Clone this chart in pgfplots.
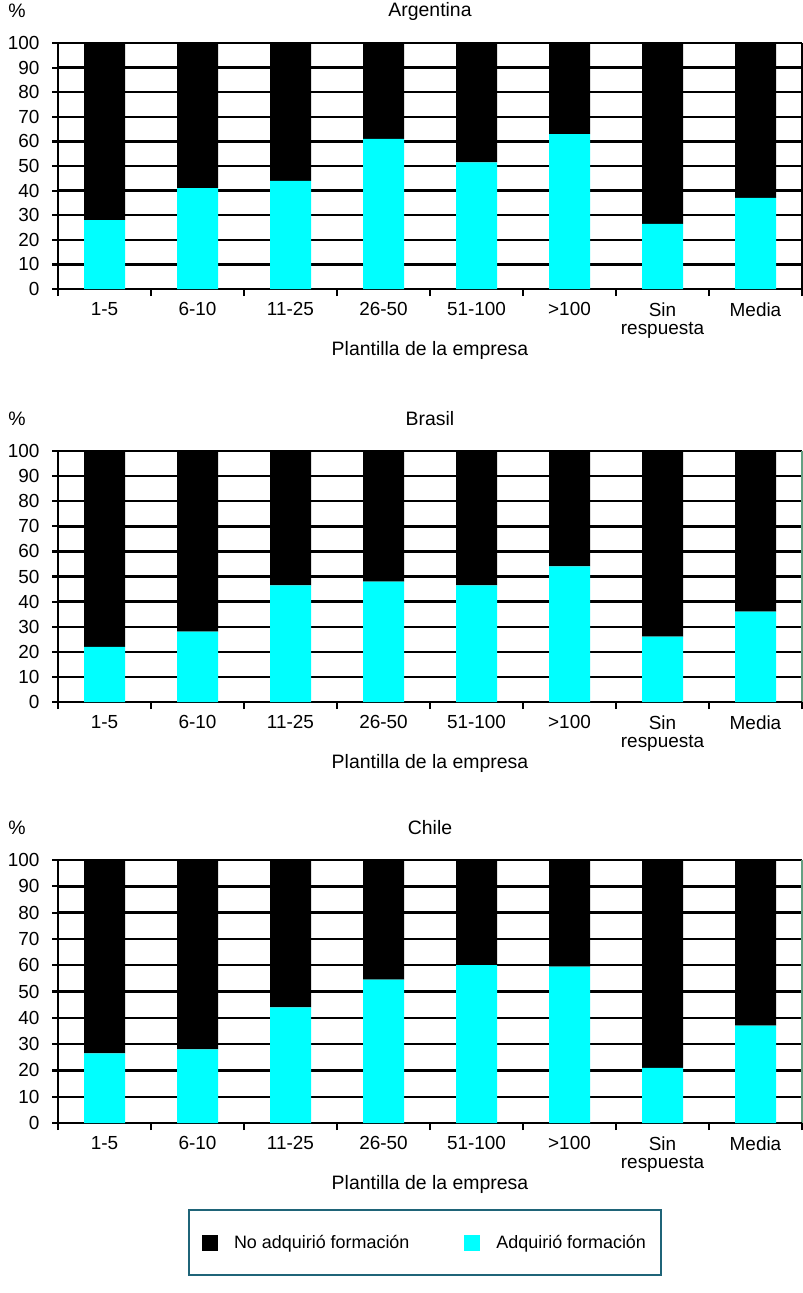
\documentclass[border=0pt]{standalone}
\usepackage{fontspec}
\setmainfont{Liberation Sans}
\usepackage{pgfplots}
\pgfplotsset{compat=1.18}
\definecolor{legframe}{RGB}{31,100,120}
\definecolor{rightline}{RGB}{100,160,130}
\definecolor{cyanbar}{RGB}{0,255,255}

\pgfplotsset{
  panel/.style={
    ybar stacked,
    scale only axis,
    clip=false,
    width=744bp,
    xmin=-0.5, xmax=7.5,
    ymin=0, ymax=100,
    bar width=41bp,
    axis lines*=left,
    axis line style={line width=2.2bp, -},
    xtick={0,...,7},
    xticklabels={1-5,6-10,11-25,26-50,51-100,>100,{Sin\\respuesta},Media},
    major x tick style={draw=none},
    minor xtick={-0.5,0.5,...,7.5},
    minor x tick style={line width=2.2bp, black},
    minor tick length=7bp,
    ytick={0,10,...,100},
    y tick style={line width=2.2bp, black},
    major tick length=6bp,
    tick align=outside,
    ymajorgrids,
    grid style={line width=2.4bp, black},
    tick label style={font=\fontsize{19}{18}\selectfont},
    yticklabel style={xshift=-9bp},
    xticklabel style={align=center, yshift=-4bp},
    /pgf/number format/assume math mode=true,
    xlabel={Plantilla de la empresa},
    xlabel style={font=\fontsize{19.5}{22}\selectfont, at={(axis description cs:0.5,0)}, anchor=center, yshift=-61bp},
    every axis title shift=0pt,
    title style={font=\fontsize{19.5}{22}\selectfont, at={(axis description cs:0.5,1)}, anchor=center, yshift=32bp},
  },
}

\begin{document}
\begin{tikzpicture}

% Argentina
\begin{axis}[panel, at={(58bp,-289bp)}, anchor=south west, height=246bp, title={Argentina}]
\addplot[fill=cyanbar, draw=none] coordinates {(0,28) (1,41) (2,44) (3,61) (4,51.5) (5,63) (6,26.5) (7,37)};
\addplot[fill=black, draw=none] coordinates {(0,72) (1,59) (2,56) (3,39) (4,48.5) (5,37) (6,73.5) (7,63)};
\draw[black, line width=2.2bp] (rel axis cs:0,0) -- (rel axis cs:1,0);
\draw[black, line width=1.5bp] (rel axis cs:1,0) -- (rel axis cs:1,1);
\node[font=\fontsize{19.5}{22}\selectfont] at (axis description cs:0,1) [xshift=-41bp, yshift=32bp] {\%};
\end{axis}

% Brasil
\begin{axis}[panel, at={(58bp,-702bp)}, anchor=south west, height=251bp, title={Brasil}]
\addplot[fill=cyanbar, draw=none] coordinates {(0,22) (1,28) (2,46.5) (3,48) (4,46.5) (5,54) (6,26) (7,36)};
\addplot[fill=black, draw=none] coordinates {(0,78) (1,72) (2,53.5) (3,52) (4,53.5) (5,46) (6,74) (7,64)};
\draw[black, line width=2.2bp] (rel axis cs:0,0) -- (rel axis cs:1,0);
\draw[rightline, line width=1.5bp] (rel axis cs:1,0) -- (rel axis cs:1,1);
\node[font=\fontsize{19.5}{22}\selectfont] at (axis description cs:0,1) [xshift=-41bp, yshift=32bp] {\%};
\end{axis}

% Chile
\begin{axis}[panel, at={(58bp,-1123bp)}, anchor=south west, height=263bp, title={Chile},
  reverse legend,
  legend columns=2,
  legend image code/.code={\fill[#1] (0bp,-8bp) rectangle (16bp,8bp); \path (30bp,0bp);},
  legend style={at={(axis description cs:0.4933,-0.4544)}, anchor=center,
    draw=legframe, line width=2.5bp, inner xsep=13bp, inner ysep=23bp,
    font=\fontsize{18}{22}\selectfont,
    /tikz/every even column/.append style={column sep=53bp}},
]
\addplot[fill=cyanbar, draw=none] coordinates {(0,26.5) (1,28) (2,44) (3,54.5) (4,60) (5,59.5) (6,21) (7,37)};
\addplot[fill=black, draw=none] coordinates {(0,73.5) (1,72) (2,56) (3,45.5) (4,40) (5,40.5) (6,79) (7,63)};
\addlegendentry{Adquirió formación}
\addlegendentry{No adquirió formación}
\draw[black, line width=2.2bp] (rel axis cs:0,0) -- (rel axis cs:1,0);
\draw[rightline, line width=1.5bp] (rel axis cs:1,0) -- (rel axis cs:1,1);
\node[font=\fontsize{19.5}{22}\selectfont] at (axis description cs:0,1) [xshift=-41bp, yshift=32bp] {\%};
\end{axis}

\pgfresetboundingbox
\path (0,0) rectangle (803bp,-1293bp);
\end{tikzpicture}
\end{document}
